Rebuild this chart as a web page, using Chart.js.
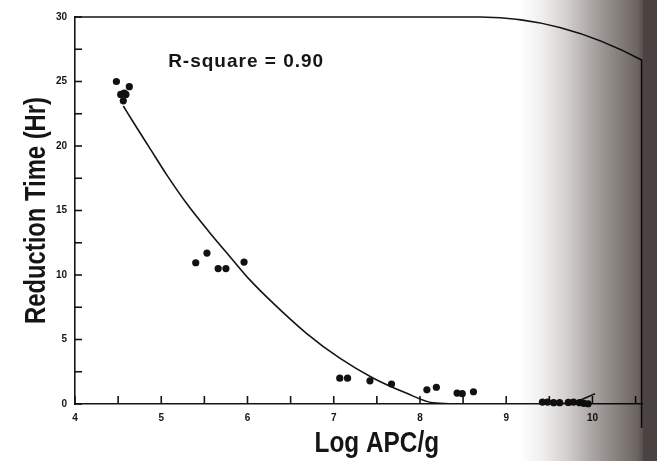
<!DOCTYPE html>
<html><head><meta charset="utf-8">
<script src="https://cdn.jsdelivr.net/npm/chart.js@4/dist/chart.umd.min.js"></script>
<style>
html,body{margin:0;padding:0;background:#fff;overflow:hidden;width:657px;height:461px}
#wrap{position:relative;width:657px;height:461px;overflow:hidden;background:#fff}
#c{position:absolute;left:0;top:0}
#shade{position:absolute;left:0;top:0;width:657px;height:461px;pointer-events:none;mix-blend-mode:multiply;
background:linear-gradient(to right,#ffffff 0%,#ffffff 79%,#f0efee 82.5%,#d5d2d0 86%,#aca7a4 90%,#8b8582 93.5%,#6c6461 97%,#5a5350 97.8%)}
#edge{position:absolute;left:643px;top:0;width:14px;height:461px;background:#4b4341}
</style></head>
<body><div id="wrap"><canvas id="c" width="692" height="461"></canvas><div id="shade"></div><div id="edge"></div></div>
<script>
// Observed data points (Log APC/g vs Reduction Time in hours)
const pointX = [4.48, 4.53, 4.57, 4.59, 4.63, 4.56,
                5.40, 5.53, 5.66, 5.75, 5.96,
                7.07, 7.16, 7.42, 7.67, 8.08, 8.19, 8.43, 8.49, 8.62,
                9.42, 9.48, 9.55, 9.62, 9.72, 9.78, 9.85, 9.90, 9.95];
const pointY = [25.0, 24.0, 24.1, 24.0, 24.6, 23.5,
                10.95, 11.7, 10.5, 10.5, 11.0,
                2.0, 2.0, 1.8, 1.55, 1.1, 1.3, 0.85, 0.8, 0.95,
                0.15, 0.15, 0.1, 0.1, 0.12, 0.15, 0.1, 0.05, 0.02];
// Fitted curve
const fitX = [4.56, 4.68, 4.87, 5.06, 5.31, 5.56, 5.80, 6.03, 6.30, 6.68, 7.07, 7.46, 7.84, 8.15, 8.6, 9.0, 9.4, 9.75, 10.03];
const fitY = [23.1, 21.8, 19.8, 17.8, 15.4, 13.3, 11.4, 9.6, 7.8, 5.5, 3.55, 2.0, 0.85, 0.1, 0.0, 0.0, 0.02, 0.1, 0.8];
const xTickLabels = [4, 5, 6, 7, 8, 9, 10, 11];
const yTickLabels = [0, 5, 10, 15, 20, 25, 30];
const xTitle = 'Log APC/g';
const yTitle = 'Reduction Time (Hr)';
const annotationText = 'R-square = 0.90';

const ink = '#151515';
const family = "'Liberation Sans',Arial,sans-serif";

const frame = {
  id: 'frame',
  afterDraw(chart) {
    const {ctx, chartArea: a, scales: {x, y}} = chart;
    ctx.save();
    ctx.strokeStyle = ink;
    ctx.lineWidth = 1.6;
    // inward tick marks
    x.ticks.forEach(t => {
      const px = x.getPixelForValue(t.value);
      ctx.beginPath(); ctx.moveTo(px, a.bottom); ctx.lineTo(px, a.bottom - 8); ctx.stroke();
    });
    y.ticks.forEach(t => {
      const py = y.getPixelForValue(t.value);
      ctx.beginPath(); ctx.moveTo(a.left, py); ctx.lineTo(a.left + 7, py); ctx.stroke();
    });
    // top frame line, bending down at the page edge
    ctx.beginPath();
    ctx.moveTo(a.left, a.top);
    const x1 = x.getPixelForValue(8.7), xc = x.getPixelForValue(9.63), x2 = x.getPixelForValue(10.57);
    ctx.lineTo(x1, a.top);
    ctx.quadraticCurveTo(xc, a.top, x2, a.top + 43);
    ctx.lineTo(x2, a.bottom + 24);
    ctx.stroke();
    ctx.fillStyle = ink;
    // axis titles (condensed, heavy)
    ctx.font = 'bold 29px ' + family;
    ctx.textAlign = 'center';
    ctx.textBaseline = 'alphabetic';
    ctx.save();
    ctx.translate((a.left + a.right) / 2, a.bottom + 48);
    ctx.scale(0.84, 1);
    ctx.fillText(xTitle, 0, 0);
    ctx.restore();
    ctx.save();
    ctx.translate(a.left - 30, (a.top + a.bottom) / 2);
    ctx.rotate(-Math.PI / 2);
    ctx.scale(0.82, 1);
    ctx.fillText(yTitle, 0, 0);
    ctx.restore();
    // annotation
    ctx.font = 'bold 19px ' + family;
    if ('letterSpacing' in ctx) ctx.letterSpacing = '1px';
    ctx.textAlign = 'left';
    ctx.fillText(annotationText, x.getPixelForValue(5.08), y.getPixelForValue(26.1));
    ctx.restore();
  }
};

new Chart(document.getElementById('c'), {
  type: 'scatter',
  data: {
    datasets: [
      {
        type: 'line',
        data: fitX.map((v, i) => ({x: v, y: fitY[i]})),
        borderColor: ink, borderWidth: 1.6, pointRadius: 0,
        cubicInterpolationMode: 'monotone', fill: false, order: 2
      },
      {
        type: 'scatter',
        data: pointX.map((v, i) => ({x: v, y: pointY[i]})),
        backgroundColor: '#111', borderColor: '#111', borderWidth: 0,
        pointRadius: 3.6, clip: false, order: 1
      }
    ]
  },
  options: {
    responsive: false, animation: false, devicePixelRatio: 1,
    layout: {padding: {top: 17, right: 12, left: 0, bottom: 0}},
    plugins: {legend: {display: false}, tooltip: {enabled: false}},
    scales: {
      x: {
        type: 'linear', min: 4, max: 11,
        ticks: {
          stepSize: 0.5, autoSkip: false, maxRotation: 0, padding: 8, color: ink,
          font: {family: family, size: 10, weight: 'bold'},
          callback: v => xTickLabels.includes(v) ? String(v) : ''
        },
        grid: {drawOnChartArea: false, drawTicks: false},
        border: {color: ink, width: 1.6},
        title: {display: false},
        afterFit(s) { s.height = 57; }
      },
      y: {
        min: 0, max: 30,
        ticks: {
          stepSize: 2.5, autoSkip: false, padding: 8, color: ink,
          font: {family: family, size: 10, weight: 'bold'},
          callback: v => yTickLabels.includes(v) ? String(v) : ''
        },
        grid: {drawOnChartArea: false, drawTicks: false},
        border: {color: ink, width: 1.6},
        title: {display: false},
        afterFit(s) { s.width = 75; }
      }
    }
  },
  plugins: [frame]
});
</script>
</body></html>
